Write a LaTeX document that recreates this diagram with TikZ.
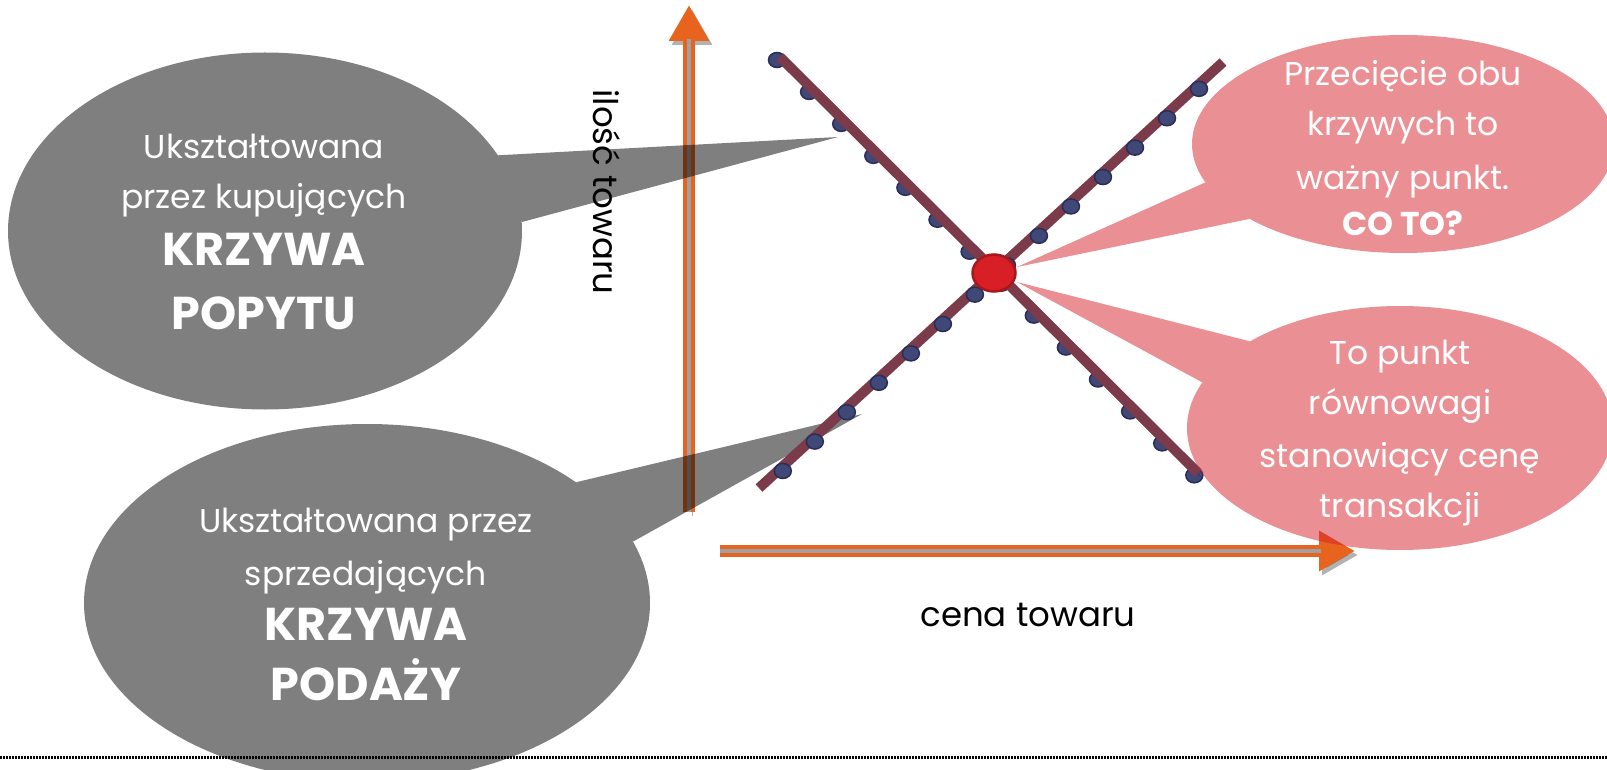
\documentclass[tikz,border=0pt]{standalone}
\usepackage{fontspec}
\setmainfont{Poppins}
\usetikzlibrary{positioning}
\usetikzlibrary{calc}
\usetikzlibrary{shapes.geometric}
\usetikzlibrary{arrows.meta}
\definecolor{axisorange}{RGB}{232,100,30}
\definecolor{axiscore}{RGB}{160,160,160}
\definecolor{curvemaroon}{RGB}{124,59,74}
\definecolor{dotnavy}{RGB}{64,72,120}
\definecolor{dotborder}{RGB}{42,46,86}
\definecolor{eqred}{RGB}{217,31,38}
\definecolor{eqborder}{RGB}{165,24,30}
\definecolor{bubblered}{RGB}{213,31,40}
\newcommand{\bigbold}{\fontsize{46}{56}\selectfont\bfseries}
\tikzset{
    x=1pt, y=-1pt,
    gray bubble/.style={shape=ellipse,fill=black,inner sep=0pt},
    pink bubble/.style={shape=ellipse,fill=bubblered,inner sep=0pt},
    bubble text/.style={text=white,align=center,inner sep=0pt,font=\fontsize{33}{50}\selectfont},
    axis arrow/.style={draw=axisorange,line width=12pt,-{Triangle[length=36pt,width=38pt]}},
    axis core/.style={draw=axiscore,line width=3.5pt,shorten >=34pt},
    shadowed/.style={preaction={draw=black,opacity=0.3,transform canvas={shift={(3pt,-4pt)}}}},
    curve line/.style={draw=curvemaroon,line width=10pt},
    dot node/.style={shape=ellipse,draw=dotborder,fill=dotnavy,line width=1.5pt,minimum width=17pt,minimum height=15pt,inner sep=0pt},
    eq node/.style={shape=ellipse,draw=eqborder,fill=eqred,line width=2.5pt,minimum width=43pt,minimum height=37pt,inner sep=0pt},
    axis label/.style={text=black,inner sep=0pt,font=\fontsize{34}{40}\selectfont},
    cut line/.style={draw=black,line width=3pt,dash pattern=on 1.5pt off 1.5pt}
}
\begin{document}
\begin{tikzpicture}
    \useasboundingbox (0,0) rectangle (1607,770);
    \coordinate (y-base) at (689,512);
    \coordinate (y-tip) at (689,5);
    \coordinate (x-base) at (720,551);
    \coordinate (x-tip) at (1355,551);
    \coordinate (d-start) at (780,57);
    \coordinate (d-end) at (1198,473);
    \coordinate (s-start) at (759,488);
    \coordinate (s-end) at (1223,62);
    \coordinate (rule-l) at (0,757);
    \coordinate (rule-r) at (1607,757);

    % axes
    \draw[axis arrow,shadowed] (y-base) -- (y-tip);
    \draw[axis core] (y-base) -- (y-tip);
    \draw[axis arrow,shadowed] (x-base) -- (x-tip);
    \draw[axis core] (x-base) -- (x-tip);

    % gray callouts
    \begin{scope}[transparency group,opacity=0.5]
        \node[gray bubble,minimum width=514pt,minimum height=357pt] (g1) at (265,231) {};
        \coordinate (g1-tip) at (838,137);
        \fill (g1.18) -- (g1-tip) -- (g1.2) -- cycle;
        \node[gray bubble,minimum width=566pt,minimum height=358pt] (g2) at (367,603) {};
        \coordinate (g2-tip) at (862,414);
        \fill (g2.30) -- (g2-tip) -- (g2.13) -- cycle;
    \end{scope}
    \node[bubble text] (g1-text) at (264,232) {Ukształtowana\\przez kupujących\\[7pt]{\bigbold KRZYWA}\\[14pt]{\bigbold POPYTU}};
    \node[bubble text] (g2-text) at (366,604) {Ukształtowana przez\\[3pt]sprzedających\\[5pt]{\bigbold KRZYWA}\\[10pt]{\bigbold PODAŻY}};

    % curves
    \foreach \i in {0,...,13}
        \node[dot node,xshift=-3pt,yshift=-3pt] (d-\i) at ($(d-start)!{\i*0.0768}!(d-end)$) {};
    \draw[curve line,shadowed] (d-start) -- (d-end);
    \draw[curve line,shadowed] (s-start) -- (s-end);
    \foreach \i in {0,...,13}
        \node[dot node,xshift=2pt,yshift=-3pt] (s-\i) at ($(s-start)!{0.047+\i*0.069}!(s-end)$) {};

    % pink callouts
    \begin{scope}[transparency group,opacity=0.5]
        \node[pink bubble,minimum width=422pt,minimum height=218pt] (p1) at (1403,144) {};
        \coordinate (p1-tip) at (1017,267);
        \fill[bubblered] (p1.191) -- (p1-tip) -- (p1.206) -- cycle;
        \node[pink bubble,minimum width=426pt,minimum height=244pt] (p2) at (1400,428) {};
        \coordinate (p2-tip) at (1017,282);
        \fill[bubblered] (p2.150) -- (p2-tip) -- (p2.167) -- cycle;
    \end{scope}
    \node[bubble text] (p1-text) at (1403,148) {Przecięcie obu\\krzywych to\\[4pt]ważny punkt.\\[-4pt]\textbf{CO TO?}};
    \node[bubble text] (p2-text) at (1400,433) {To punkt\\równowagi\\[3pt]stanowiący cenę\\transakcji};

    \node[eq node] (eq) at (994,273) {};

    \node[axis label,rotate=-90] (y-label) at (607,192) {ilość towaru};
    \node[axis label] (x-label) at (1028,615) {cena towaru};
    \draw[cut line] (rule-l) -- (rule-r);
\end{tikzpicture}
\end{document}
